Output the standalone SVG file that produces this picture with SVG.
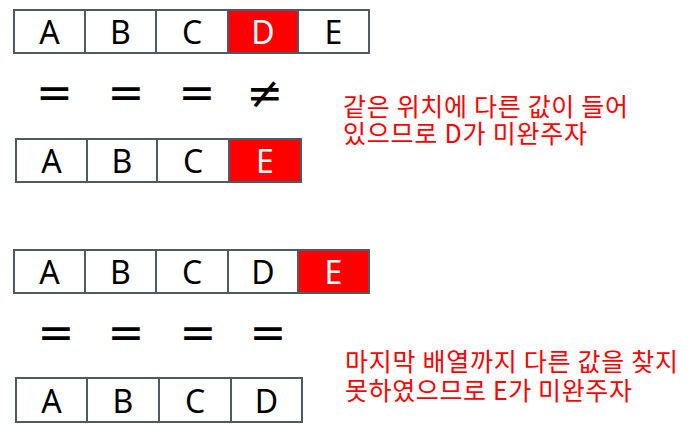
<svg xmlns="http://www.w3.org/2000/svg" width="690" height="439" viewBox="0 0 690 439">
<style>
.cell{fill:#ffffff;stroke:#505a64;stroke-width:2}
.hot{fill:#ff0000;stroke:#505a64;stroke-width:2}
.lt{font-family:"Noto Sans","Open Sans",sans-serif;font-size:32px;text-anchor:middle;fill:#000}
.lw{fill:#ffffff}
.eq{font-family:"DejaVu Sans",sans-serif;font-size:44px;text-anchor:middle;fill:#000}
.note{font-family:"Noto Sans CJK KR","Noto Sans",sans-serif;font-size:25px;fill:#ff0000}
</style>
<rect width="690" height="439" fill="#ffffff"/>
<g id="row1">
<rect class="cell" x="14" y="10" width="71" height="43"/><text class="lt" x="49.5" y="44">A</text>
<rect class="cell" x="85" y="10" width="71" height="43"/><text class="lt" x="120.5" y="44">B</text>
<rect class="cell" x="156" y="10" width="72" height="43"/><text class="lt" x="192" y="44">C</text>
<rect class="hot" x="228" y="10" width="70" height="43"/><text class="lt lw" x="263" y="44">D</text>
<rect class="cell" x="298" y="10" width="71" height="43"/><text class="lt" x="333.5" y="44">E</text>
</g>
<g id="cmp1">
<text class="eq" x="54.5" y="108">=</text>
<text class="eq" x="126" y="108">=</text>
<text class="eq" x="197" y="108">=</text>
<text class="eq" x="265" y="108">≠</text>
</g>
<g id="row2">
<rect class="cell" x="16" y="139" width="71" height="43"/><text class="lt" x="51.5" y="173">A</text>
<rect class="cell" x="87" y="139" width="70" height="43"/><text class="lt" x="122" y="173">B</text>
<rect class="cell" x="157" y="139" width="72" height="43"/><text class="lt" x="193" y="173">C</text>
<rect class="hot" x="229" y="139" width="72" height="43"/><text class="lt lw" x="265" y="173">E</text>
</g>
<g id="note1">
<text class="note" x="343" y="116" textLength="285" lengthAdjust="spacing">같은 위치에 다른 값이 들어</text>
<text class="note" x="343" y="143" textLength="244" lengthAdjust="spacing">있으므로 D가 미완주자</text>
</g>
<g id="row3">
<rect class="cell" x="14" y="250" width="71" height="43"/><text class="lt" x="49.5" y="284">A</text>
<rect class="cell" x="85" y="250" width="71" height="43"/><text class="lt" x="120.5" y="284">B</text>
<rect class="cell" x="156" y="250" width="72" height="43"/><text class="lt" x="192" y="284">C</text>
<rect class="cell" x="228" y="250" width="70" height="43"/><text class="lt" x="263" y="284">D</text>
<rect class="hot" x="298" y="250" width="71" height="43"/><text class="lt lw" x="333.5" y="284">E</text>
</g>
<g id="cmp2">
<text class="eq" x="56" y="348">=</text>
<text class="eq" x="126" y="348">=</text>
<text class="eq" x="198" y="348">=</text>
<text class="eq" x="268" y="348">=</text>
</g>
<g id="row4">
<rect class="cell" x="16" y="378" width="71" height="44"/><text class="lt" x="51.5" y="413">A</text>
<rect class="cell" x="87" y="378" width="72" height="44"/><text class="lt" x="123" y="413">B</text>
<rect class="cell" x="159" y="378" width="72" height="44"/><text class="lt" x="195" y="413">C</text>
<rect class="cell" x="231" y="378" width="71" height="44"/><text class="lt" x="266.5" y="413">D</text>
</g>
<g id="note2">
<text class="note" x="345" y="371" textLength="333" lengthAdjust="spacing">마지막 배열까지 다른 값을 찾지</text>
<text class="note" x="345" y="400" textLength="287" lengthAdjust="spacing">못하였으므로 E가 미완주자</text>
</g>
<g id="connectors"/>
</svg>
